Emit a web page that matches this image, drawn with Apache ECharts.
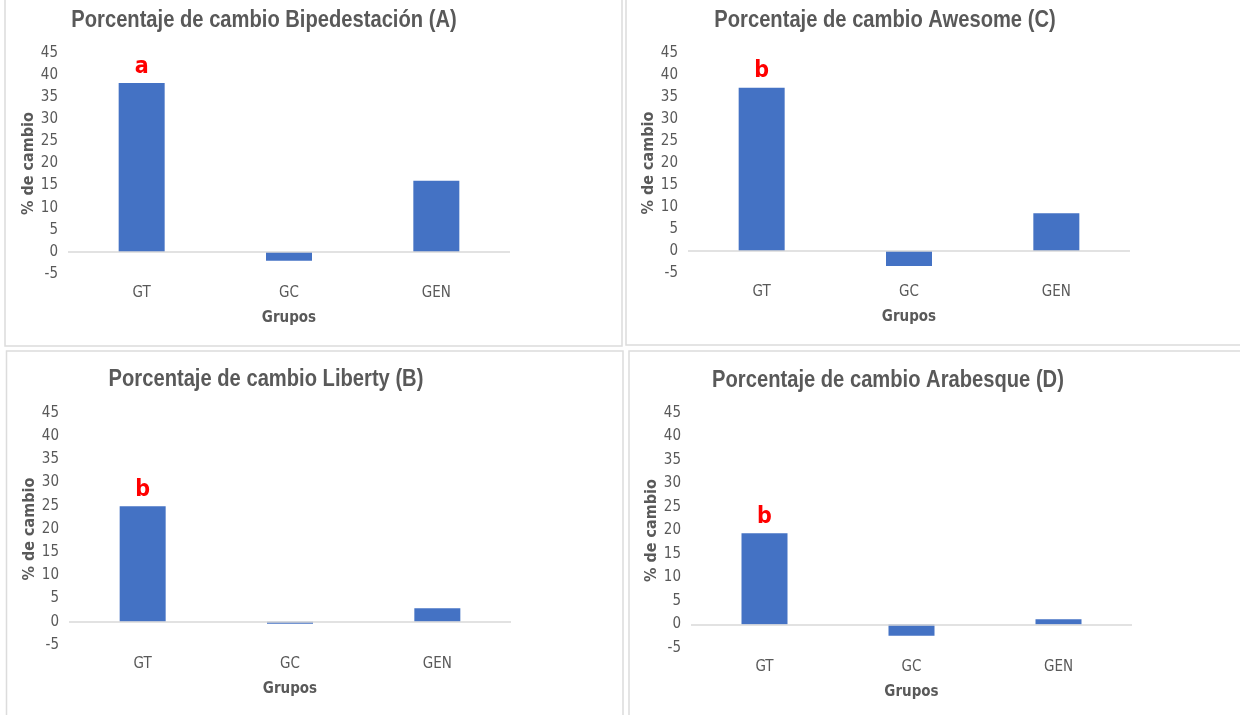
<!DOCTYPE html>
<html lang="es" style="height: 100%">
<head>
  <meta charset="utf-8">
</head>
<body style="height: 100%; margin: 0; background: #fff">
  <div id="container" style="width: 1240px; height: 715px"></div>

  <script type="text/javascript" src="https://cdn.jsdelivr.net/npm/echarts@6/dist/echarts.min.js"></script>
  <script type="text/javascript">
    // datos
    var groups = ['GT', 'GC', 'GEN'];
    var bipedestacion = [38.2, -2.0, 16.1];
    var awesome = [37.1, -3.4, 8.6];
    var liberty = [24.9, -0.4, 2.9];
    var arabesque = [19.4, -2.4, 1.1];
    var yTicks = { min: -5, max: 45, interval: 5 };

    var panels = [
      { title: 'Porcentaje de cambio Bipedestación (A)', values: bipedestacion, letter: 'a',
        tx: 264, ty: 20, grid: { left: 68, top: 53, width: 442, height: 221 } },
      { title: 'Porcentaje de cambio Awesome (C)', values: awesome, letter: 'b',
        tx: 885, ty: 20, grid: { left: 688, top: 53, width: 442, height: 220 } },
      { title: 'Porcentaje de cambio Liberty (B)', values: liberty, letter: 'b',
        tx: 266, ty: 379, grid: { left: 69, top: 413, width: 442, height: 232 } },
      { title: 'Porcentaje de cambio Arabesque (D)', values: arabesque, letter: 'b',
        tx: 888, ty: 380, grid: { left: 691, top: 413, width: 441, height: 235 } }
    ];

    var font = "'Liberation Sans Narrow', 'Arial Narrow', 'DejaVu Sans Condensed', sans-serif";
    var titleFont = "'Liberation Sans', Arial, sans-serif";
    var grey = '#595959';

    var dom = document.getElementById('container');
    var myChart = echarts.init(dom, null, { renderer: 'canvas' });

    var option = {
      backgroundColor: '#fff',
      animation: false,
      grid: [],
      xAxis: [],
      yAxis: [],
      series: [],
      graphic: [
        { type: 'rect', shape: { x: 5, y: -3, width: 617, height: 349 }, style: { fill: 'none', stroke: '#dcdcdc', lineWidth: 1.5 } },
        { type: 'rect', shape: { x: 626, y: -3, width: 620, height: 348 }, style: { fill: 'none', stroke: '#dcdcdc', lineWidth: 1.5 } },
        { type: 'rect', shape: { x: 6.5, y: 351, width: 616.5, height: 370 }, style: { fill: 'none', stroke: '#dcdcdc', lineWidth: 1.5 } },
        { type: 'rect', shape: { x: 629, y: 351, width: 617, height: 370 }, style: { fill: 'none', stroke: '#dcdcdc', lineWidth: 1.5 } }
      ]
    };

    panels.forEach(function (p, i) {
      // titulo condensado como en Excel
      option.graphic.push({
        type: 'text',
        x: p.tx,
        y: p.ty,
        scaleX: 0.84,
        style: {
          text: p.title,
          align: 'center',
          verticalAlign: 'middle',
          font: 'bold 24px ' + titleFont,
          fill: grey
        }
      });
      option.grid.push(p.grid);
      option.xAxis.push({
        type: 'category',
        gridIndex: i,
        data: groups,
        name: 'Grupos',
        nameLocation: 'middle',
        nameGap: 37,
        nameTextStyle: { fontFamily: font, fontSize: 15, fontWeight: 'bold', color: grey },
        axisLine: { show: false },
        axisTick: { show: false },
        axisLabel: { margin: 12, fontFamily: font, fontSize: 15, color: grey }
      });
      option.yAxis.push({
        type: 'value',
        gridIndex: i,
        min: yTicks.min,
        max: yTicks.max,
        interval: yTicks.interval,
        name: '% de cambio',
        nameLocation: 'middle',
        nameGap: 25,
        nameTextStyle: { fontFamily: font, fontSize: 16, fontWeight: 'bold', color: grey },
        axisLine: { show: false },
        axisTick: { show: false },
        splitLine: { show: false },
        axisLabel: { margin: 10, fontFamily: font, fontSize: 15, color: grey }
      });
      option.series.push({
        type: 'bar',
        xAxisIndex: i,
        yAxisIndex: i,
        barWidth: 46,
        itemStyle: { color: '#4472c4' },
        data: p.values.map(function (v, k) {
          if (k === 0) {
            return {
              value: v,
              label: {
                show: true,
                position: 'top',
                distance: 5,
                formatter: p.letter,
                fontFamily: font,
                fontSize: 23,
                fontWeight: 'bold',
                color: '#ff0000'
              }
            };
          }
          return v;
        }),
        markLine: {
          silent: true,
          symbol: ['none', 'none'],
          label: { show: false },
          lineStyle: { color: '#d9d9d9', type: 'solid', width: 1.5 },
          data: [{ yAxis: 0 }]
        }
      });
    });

    myChart.setOption(option);
    window.addEventListener('resize', myChart.resize);
  </script>
</body>
</html>
